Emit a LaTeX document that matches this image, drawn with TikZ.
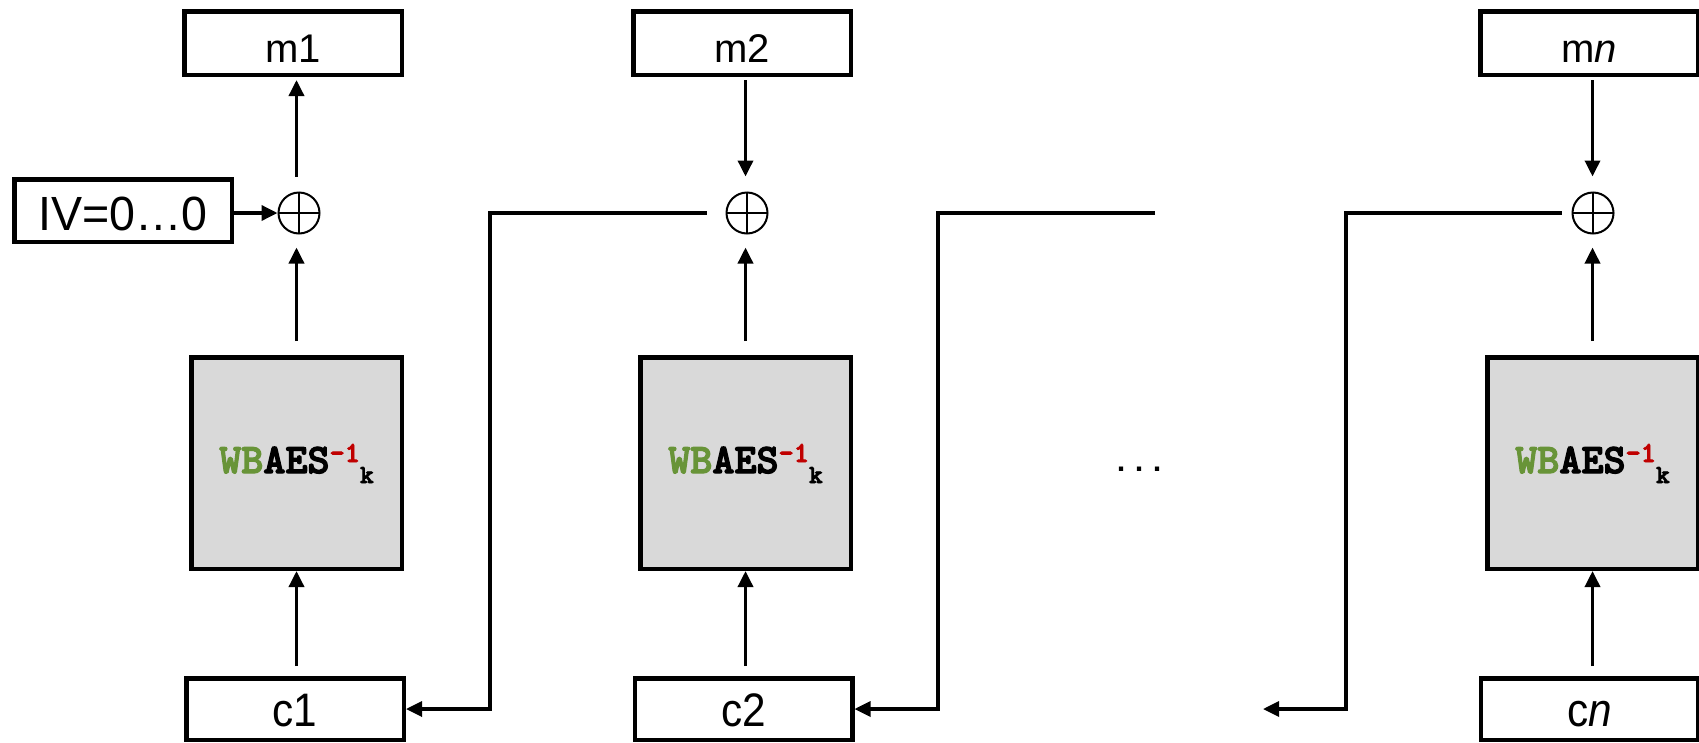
\documentclass[tikz,border=0pt]{standalone}
\usepackage{fontspec}
\setmainfont{Liberation Sans}
\newfontfamily\wbmono{Liberation Mono}
\newfontfamily\wbtt{lmmonolt10-bold}[Extension=.otf,FakeBold=3]
\usepackage{graphicx}
\usetikzlibrary{arrows.meta}
\definecolor{wbgreen}{RGB}{104,148,56}
\definecolor{wbred}{RGB}{192,0,0}
\definecolor{wbgray}{RGB}{217,217,217}
\newcommand{\wbaes}{{\wbtt\fontsize{42pt}{42pt}\selectfont\textcolor{wbgreen}{WB}AES\raisebox{11pt}{\fontsize{29pt}{29pt}\selectfont\textcolor{wbred}{-1}}\raisebox{-10pt}{\fontsize{26pt}{26pt}\selectfont k}}}
\newcommand{\cond}[1]{\scalebox{0.9}[1]{#1}}
\begin{document}
\begin{tikzpicture}[x=1pt,y=-1pt,
  mbox/.style={draw,line width=4.5pt,minimum width=217.5pt,minimum height=63.5pt,inner sep=0pt,text height=38pt,text depth=0pt,font=\fontsize{40pt}{40pt}\selectfont},
  cbox/.style={draw,line width=4.5pt,minimum width=217.5pt,minimum height=61.5pt,inner sep=0pt,text height=34pt,text depth=0pt,font=\fontsize{47pt}{47pt}\selectfont},
  ivbox/.style={draw,line width=4.5pt,minimum width=217.5pt,minimum height=62.5pt,inner sep=0pt,text height=39pt,text depth=0pt,font=\fontsize{48pt}{48pt}\selectfont},
  wbbox/.style={draw,fill=wbgray,line width=4.5pt,minimum width=210.5pt,minimum height=211.5pt,inner sep=0pt,text height=20pt,text depth=0pt},
  xorc/.style={circle,draw,line width=2pt,minimum size=41pt,inner sep=0pt,
    path picture={\draw[line width=2pt] (path picture bounding box.north) -- (path picture bounding box.south)
      (path picture bounding box.west) -- (path picture bounding box.east);}},
  arr/.style={line width=3.5pt,-{Triangle[width=15pt,length=16pt]}},
  fbarr/.style={line width=3.3pt,-{Triangle[width=15pt,length=16pt]}}
]
\useasboundingbox (0,0) rectangle (1699,742);

% column 1
\node[mbox] (m1) at (293,43) {m1};
\node[xorc] (xor1) at (299,213) {};
\node[ivbox] (iv) at (123,210.5) {\scalebox{0.97}[1]{IV=0\ldots0}};
\node[wbbox] (wb1) at (296.5,463) {\wbaes};
\node[cbox] (c1) at (295,709) {\cond{c1}};

% column 2
\node[mbox] (m2) at (742,43) {m2};
\node[xorc] (xor2) at (747,213) {};
\node[wbbox] (wb2) at (745.5,463) {\wbaes};
\node[cbox] (c2) at (743.5,709) {\cond{c2}};

% column n
\node[mbox] (mn) at (1589,43) {m\textit{n}};
\node[xorc] (xorn) at (1593,213) {};
\node[wbbox] (wbn) at (1592.5,463) {\wbaes};
\node[cbox] (cn) at (1589.5,709) {\cond{c\textit{n}}};

\node[font=\wbmono\bfseries\fontsize{30pt}{30pt}\selectfont,anchor=base] (dots) at (1139,471) {...};

% vertical arrows
\draw[arr,shorten <=10pt] (wb1.south |- c1.north) -- (wb1.south);
\draw[arr,shorten <=14pt,shorten >=13pt] (wb1.north) -- (wb1.north |- xor1.south);
\draw[arr,shorten <=15pt,shorten >=3pt] (wb1.north |- xor1.north) -- (wb1.north |- m1.south);
\draw[arr] (iv.east |- xor1) -- (xor1.west);

\draw[arr,shorten <=10pt] (wb2.south |- c2.north) -- (wb2.south);
\draw[arr,shorten <=14pt,shorten >=13pt] (wb2.north) -- (wb2.north |- xor2.south);
\draw[arr,shorten <=3pt,shorten >=15pt] (wb2.north |- m2.south) -- (wb2.north |- xor2.north);

\draw[arr,shorten <=10pt] (wbn.south |- cn.north) -- (wbn.south);
\draw[arr,shorten <=14pt,shorten >=13pt] (wbn.north) -- (wbn.north |- xorn.south);
\draw[arr,shorten <=3pt,shorten >=15pt] (wbn.north |- mn.south) -- (wbn.north |- xorn.north);

% feedback lines
\coordinate (k1) at (490,213);
\coordinate (s2) at (1155,213);
\coordinate (k2) at (938,213);
\coordinate (kn) at (1346,213);
\coordinate (fend) at (1263,709);
\draw[fbarr,shorten <=19pt] (xor2.west) -- (k1) |- (c1.east);
\draw[fbarr] (s2) -- (k2) |- (c2.east);
\draw[fbarr,shorten <=10pt] (xorn.west) -- (kn) |- (fend);
\end{tikzpicture}
\end{document}
